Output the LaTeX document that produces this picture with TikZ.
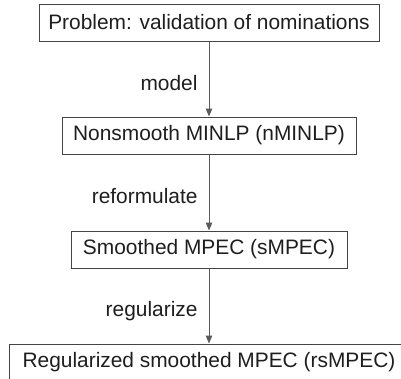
\documentclass[tikz,border=0pt]{standalone}
\usepackage{fontspec}
\setmainfont{Liberation Sans}
\usetikzlibrary{arrows.meta}
\definecolor{boxline}{HTML}{444444}
\definecolor{arrline}{HTML}{5A5A5A}
\definecolor{txt}{HTML}{1E1E1E}
\begin{document}
\begin{tikzpicture}[x=1pt,y=1pt,
  stagebox/.style={draw=boxline,line width=1pt,minimum height=37pt,inner sep=0pt,text=txt,font=\fontsize{20.9}{25}\selectfont},
  flowarrow/.style={draw=arrline,line width=1pt,-{Triangle[length=8pt,width=6.5pt]}},
  steplabel/.style={anchor=east,text=txt,inner sep=0pt,font=\fontsize{20.9}{25}\selectfont}]
\useasboundingbox (0,0) rectangle (401,-378);
\node[stagebox,minimum width=340pt] (p) at (209,-22.5) {Problem: validation of nominations};
\node[stagebox,minimum width=294pt] (n) at (209,-135.5) {Nonsmooth MINLP (nMINLP)};
\node[stagebox,minimum width=276pt] (s) at (209,-249.5) {Smoothed MPEC (sMPEC)};
\node[stagebox,minimum width=400pt] (r) at (209,-362.5) {Regularized smoothed MPEC (rsMPEC)};
\draw[flowarrow] (p) -- (n) node[steplabel,pos=0.55,xshift=-11pt] (l1) {model};
\draw[flowarrow] (n) -- (s) node[steplabel,pos=0.55,xshift=-11pt] (l2) {reformulate};
\draw[flowarrow] (s) -- (r) node[steplabel,pos=0.57,xshift=-11pt] (l3) {regularize};
\end{tikzpicture}
\end{document}
